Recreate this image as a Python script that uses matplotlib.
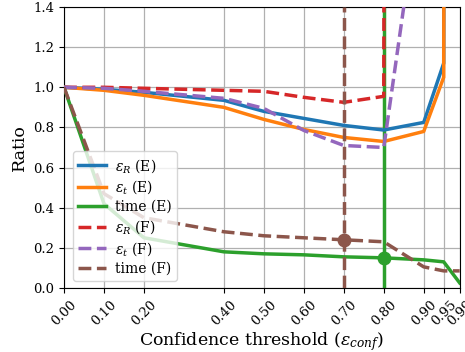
import matplotlib
matplotlib.use("Agg")
import matplotlib.pyplot as plt

plt.rcParams['font.family'] = ['DejaVu Serif']
plt.rcParams['mathtext.fontset'] = 'dejavuserif'

x = [0.00, 0.10, 0.20, 0.40, 0.50, 0.60, 0.70, 0.80, 0.90, 0.95, 0.99]
eR_E = [1.00, 0.99, 0.975, 0.935, 0.88, 0.845, 0.81, 0.787, 0.825, 1.12, 50.0]
et_E = [1.00, 0.985, 0.96, 0.90, 0.84, 0.79, 0.75, 0.73, 0.78, 1.05, 50.0]
time_E = [1.00, 0.42, 0.25, 0.18, 0.17, 0.165, 0.155, 0.15, 0.14, 0.13, 0.025]

xF = [0.00, 0.10, 0.20, 0.40, 0.50, 0.60, 0.70, 0.80, 0.90]
eR_F = [1.00, 1.00, 0.995, 0.985, 0.98, 0.95, 0.925, 0.955, 100.0]
et_F = [1.00, 0.995, 0.98, 0.945, 0.895, 0.785, 0.71, 0.70, 2.10]
time_F = [1.00, 0.47, 0.35, 0.28, 0.26, 0.25, 0.24, 0.23, 0.105, 0.085, 0.085]

sel_E = (0.80, 0.15)
sel_F = (0.70, 0.24)

xticks = [0.00, 0.10, 0.20, 0.40, 0.50, 0.60, 0.70, 0.80, 0.90, 0.95, 0.99]
xticklabels = ["0.00", "0.10", "0.20", "0.40", "0.50", "0.60", "0.70", "0.80", "0.90", "0.95", "0.99"]

fig = plt.figure(figsize=(4.65, 3.52), dpi=100)
ax = fig.add_axes([0.1376, 0.182, 0.851, 0.798])

lw = 2.5
ax.axvline(sel_E[0], color='#2ca02c', lw=lw, zorder=2)
ax.plot(x, eR_E, color='#1f77b4', lw=lw, label=r'$\epsilon_R$ (E)', zorder=3)
ax.plot(x, et_E, color='#ff7f0e', lw=lw, label=r'$\epsilon_t$ (E)', zorder=3)
ax.plot(x, time_E, color='#2ca02c', lw=lw, label='time (E)', zorder=3)
ax.plot(xF, eR_F, color='#d62728', lw=lw, ls='--', label=r'$\epsilon_R$ (F)', zorder=3)
ax.plot(xF, et_F, color='#9467bd', lw=lw, ls='--', label=r'$\epsilon_t$ (F)', zorder=3)
ax.plot(x, time_F, color='#8c564b', lw=lw, ls='--', label='time (F)', zorder=3)
ax.axvline(sel_F[0], color='#8c564b', lw=lw, ls='--', zorder=3)
ax.plot([sel_E[0]], [sel_E[1]], 'o', color='#2ca02c', ms=9, zorder=4)
ax.plot([sel_F[0]], [sel_F[1]], 'o', color='#8c564b', ms=9, zorder=4)

ax.set_xlim(0, 0.99)
ax.set_ylim(0, 1.4)
ax.set_xticks(xticks)
ax.set_xticklabels(xticklabels, rotation=45, fontsize=9.5)
ax.set_yticks([0.0, 0.2, 0.4, 0.6, 0.8, 1.0, 1.2, 1.4])
ax.set_yticklabels(["0.0", "0.2", "0.4", "0.6", "0.8", "1.0", "1.2", "1.4"], fontsize=9.5)
ax.grid(True, color='#b0b0b0', lw=0.9)
ax.set_axisbelow(True)
ax.set_xlabel(r'Confidence threshold ($\epsilon_{conf}$)', fontsize=12.5, labelpad=2)
ax.set_ylabel('Ratio', fontsize=12.5, labelpad=4)

leg = ax.legend(loc='lower left', fontsize=10, framealpha=0.8,
                bbox_to_anchor=(0.005, 0.0), handlelength=2.0,
                labelspacing=0.28, handletextpad=0.6, borderpad=0.4)

fig.savefig('out.png', dpi=100)
